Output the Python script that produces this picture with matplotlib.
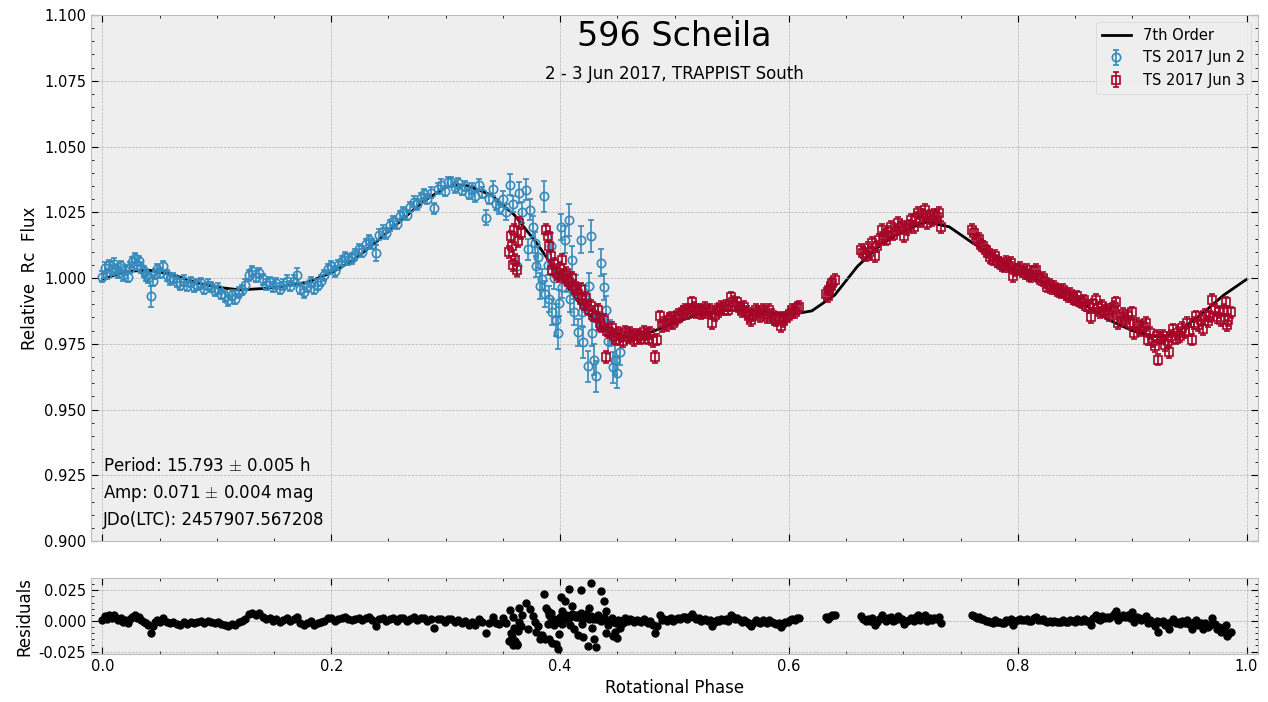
import matplotlib.pyplot as plt
from matplotlib.ticker import AutoMinorLocator, MultipleLocator

plt.style.use("bmh")

# 7th order Fourier fit
fit_phase = [0.00, 0.02, 0.04, 0.06, 0.08, 0.10, 0.12, 0.14, 0.16, 0.18,
             0.20, 0.22, 0.24, 0.26, 0.28, 0.30, 0.31, 0.32, 0.34, 0.36,
             0.38, 0.40, 0.42, 0.44, 0.46, 0.48, 0.50, 0.52, 0.54, 0.56,
             0.58, 0.60, 0.62, 0.64, 0.66, 0.68, 0.70, 0.72, 0.74, 0.76,
             0.78, 0.80, 0.82, 0.84, 0.86, 0.88, 0.90, 0.92, 0.93, 0.94,
             0.96, 0.98, 1.00]
fit_flux = [0.9995, 1.0025, 1.0030, 1.0015, 0.9985, 0.9965, 0.9955, 0.9960, 0.9970, 0.9985,
            1.0020, 1.0070, 1.0140, 1.0215, 1.0290, 1.0345, 1.0355, 1.0350, 1.0315, 1.0240,
            1.0130, 1.0005, 0.9885, 0.9800, 0.9775, 0.9795, 0.9830, 0.9860, 0.9875, 0.9880,
            0.9870, 0.9860, 0.9875, 0.9935, 1.0045, 1.0125, 1.0180, 1.0213, 1.0195, 1.0135,
            1.0080, 1.0025, 0.9990, 0.9950, 0.9895, 0.9840, 0.9800, 0.9778, 0.9780, 0.9795,
            0.9860, 0.9935, 0.9995]

# TS 2017 Jun 2
jun2_phase = [0.000, 0.002, 0.004, 0.006, 0.008, 0.010, 0.012, 0.014, 0.016, 0.018,
              0.020, 0.022, 0.024, 0.026, 0.028, 0.030, 0.032, 0.034, 0.036, 0.038,
              0.040, 0.042, 0.044, 0.046, 0.048, 0.050, 0.053, 0.056, 0.059, 0.062,
              0.065, 0.068, 0.071, 0.074, 0.077, 0.080, 0.083, 0.086, 0.089, 0.092,
              0.095, 0.098, 0.101, 0.104, 0.107, 0.110, 0.113, 0.116, 0.119, 0.122,
              0.125, 0.128, 0.131, 0.134, 0.137, 0.140, 0.143, 0.146, 0.149, 0.152,
              0.155, 0.158, 0.161, 0.164, 0.167, 0.170, 0.173, 0.176, 0.179, 0.182,
              0.185, 0.188, 0.191, 0.194, 0.197, 0.200, 0.203, 0.206, 0.209, 0.212,
              0.215, 0.218, 0.221, 0.224, 0.227, 0.230, 0.233, 0.236, 0.239, 0.242,
              0.245, 0.248, 0.251, 0.254, 0.257, 0.260, 0.263, 0.266, 0.269, 0.272,
              0.275, 0.278, 0.281, 0.284, 0.287, 0.290, 0.293, 0.296, 0.299, 0.302,
              0.305, 0.308, 0.311, 0.314, 0.317, 0.320, 0.323, 0.326, 0.329, 0.332,
              0.335, 0.338, 0.341, 0.344, 0.347, 0.350, 0.353, 0.356, 0.359, 0.362,
              0.364, 0.367, 0.370, 0.372, 0.374, 0.376, 0.378, 0.379, 0.381, 0.382,
              0.384, 0.386, 0.387, 0.389, 0.390, 0.392, 0.393, 0.395, 0.396, 0.398,
              0.399, 0.401, 0.402, 0.404, 0.406, 0.408, 0.409, 0.410, 0.412, 0.414,
              0.416, 0.418, 0.419, 0.420, 0.422, 0.424, 0.425, 0.427, 0.428, 0.430,
              0.431, 0.433, 0.436, 0.438, 0.440, 0.442, 0.444, 0.446, 0.448, 0.450,
              0.452]
jun2_flux = [1.0005, 1.0040, 1.0015, 1.0050, 1.0030, 1.0055, 1.0035, 1.0020, 1.0045, 1.0010,
             1.0030, 1.0005, 1.0040, 1.0060, 1.0075, 1.0050, 1.0065, 1.0040, 1.0025, 1.0010,
             1.0000, 0.9930, 0.9990, 1.0015, 1.0035, 1.0020, 1.0045, 1.0010, 0.9995, 1.0000,
             0.9985, 0.9975, 0.9990, 0.9970, 0.9985, 0.9965, 0.9975, 0.9980, 0.9960, 0.9975,
             0.9965, 0.9950, 0.9960, 0.9940, 0.9930, 0.9915, 0.9935, 0.9920, 0.9945, 0.9955,
             0.9975, 1.0010, 1.0025, 1.0005, 1.0020, 0.9995, 0.9975, 0.9985, 0.9965, 0.9980,
             0.9960, 0.9975, 0.9990, 0.9970, 0.9990, 1.0010, 0.9960, 0.9945, 0.9965, 0.9985,
             0.9960, 0.9975, 0.9990, 1.0010, 1.0035, 1.0045, 1.0025, 1.0050, 1.0065, 1.0080,
             1.0070, 1.0075, 1.0090, 1.0110, 1.0100, 1.0130, 1.0145, 1.0130, 1.0095, 1.0165,
             1.0180, 1.0170, 1.0200, 1.0215, 1.0205, 1.0235, 1.0250, 1.0240, 1.0270, 1.0290,
             1.0280, 1.0305, 1.0320, 1.0300, 1.0325, 1.0265, 1.0340, 1.0355, 1.0330, 1.0365,
             1.0365, 1.0345, 1.0360, 1.0335, 1.0350, 1.0320, 1.0340, 1.0310, 1.0355, 1.0325,
             1.0230, 1.0300, 1.0340, 1.0280, 1.0265, 1.0300, 1.0250, 1.0355, 1.0280, 1.0045,
             1.0325, 1.0250, 1.0335, 1.0110, 1.0260, 1.0195, 1.0135, 1.0045, 1.0080, 0.9970,
             0.9995, 1.0310, 0.9940, 1.0050, 0.9920, 1.0120, 0.9870, 1.0000, 0.9840, 0.9790,
             0.9905, 1.0195, 0.9965, 1.0146, 0.9985, 1.0220, 0.9920, 1.0070, 0.9870, 0.9970,
             0.9793, 1.0146, 0.9869, 0.9755, 0.9920, 0.9664, 0.9970, 1.0160, 0.9790, 0.9690,
             0.9626, 0.9850, 1.0059, 0.9967, 0.9880, 0.9760, 0.9790, 0.9660, 0.9690, 0.9640,
             0.9720]
jun2_err = [0.002, 0.002, 0.002, 0.002, 0.002, 0.002, 0.002, 0.002, 0.002, 0.002,
            0.002, 0.002, 0.002, 0.002, 0.002, 0.002, 0.002, 0.002, 0.002, 0.002,
            0.002, 0.004, 0.002, 0.002, 0.002, 0.002, 0.002, 0.002, 0.002, 0.002,
            0.002, 0.002, 0.002, 0.002, 0.002, 0.002, 0.002, 0.002, 0.002, 0.002,
            0.002, 0.002, 0.002, 0.002, 0.002, 0.002, 0.002, 0.002, 0.002, 0.002,
            0.002, 0.002, 0.002, 0.002, 0.002, 0.002, 0.002, 0.002, 0.002, 0.002,
            0.002, 0.002, 0.002, 0.002, 0.002, 0.003, 0.002, 0.002, 0.002, 0.002,
            0.002, 0.002, 0.002, 0.002, 0.002, 0.002, 0.002, 0.002, 0.002, 0.002,
            0.002, 0.002, 0.002, 0.002, 0.002, 0.002, 0.002, 0.002, 0.003, 0.002,
            0.002, 0.002, 0.002, 0.002, 0.002, 0.002, 0.002, 0.002, 0.002, 0.002,
            0.002, 0.002, 0.002, 0.002, 0.002, 0.002, 0.002, 0.002, 0.002, 0.002,
            0.002, 0.002, 0.002, 0.002, 0.002, 0.002, 0.002, 0.002, 0.002, 0.002,
            0.003, 0.002, 0.003, 0.002, 0.002, 0.003, 0.003, 0.004, 0.003, 0.004,
            0.004, 0.004, 0.004, 0.004, 0.004, 0.004, 0.004, 0.004, 0.004, 0.005,
            0.004, 0.006, 0.005, 0.004, 0.005, 0.005, 0.005, 0.004, 0.006, 0.006,
            0.005, 0.005, 0.004, 0.005, 0.004, 0.006, 0.005, 0.005, 0.005, 0.004,
            0.005, 0.005, 0.005, 0.006, 0.005, 0.006, 0.005, 0.006, 0.005, 0.006,
            0.006, 0.005, 0.005, 0.005, 0.005, 0.005, 0.005, 0.006, 0.006, 0.006,
            0.005]
jun2_resid = [0.0010, 0.0040, 0.0014, 0.0046, 0.0023, 0.0045, 0.0022, 0.0004, 0.0026, -0.0012,
              0.0005, -0.0021, 0.0013, 0.0032, 0.0046, 0.0020, 0.0035, 0.0010, -0.0005, -0.0020,
              -0.0030, -0.0100, -0.0040, -0.0013, 0.0010, -0.0005, 0.0023, -0.0009, -0.0021, -0.0013,
              -0.0025, -0.0030, -0.0008, -0.0024, -0.0005, -0.0020, -0.0007, 0.0001, -0.0016, 0.0002,
              -0.0005, -0.0017, -0.0005, -0.0023, -0.0032, -0.0045, -0.0023, -0.0037, -0.0011, 0.0000,
              0.0019, 0.0054, 0.0068, 0.0047, 0.0061, 0.0035, 0.0014, 0.0022, 0.0001, 0.0014,
              -0.0007, 0.0006, 0.0020, -0.0002, 0.0015, 0.0033, -0.0019, -0.0037, -0.0019, -0.0003,
              -0.0032, -0.0021, -0.0012, 0.0002, 0.0021, 0.0025, -0.0002, 0.0015, 0.0023, 0.0030,
              0.0013, 0.0010, 0.0016, 0.0026, 0.0006, 0.0025, 0.0030, 0.0004, -0.0042, 0.0017,
              0.0020, -0.0002, 0.0016, 0.0020, 0.0000, 0.0020, 0.0023, 0.0001, 0.0019, 0.0028,
              0.0007, 0.0022, 0.0027, -0.0002, 0.0014, -0.0055, 0.0012, 0.0019, -0.0013, 0.0017,
              0.0014, -0.0009, 0.0005, -0.0019, -0.0002, -0.0030, -0.0006, -0.0031, 0.0019, -0.0005,
              -0.0095, -0.0020, 0.0030, -0.0020, -0.0025, 0.0020, -0.0018, 0.0092, 0.0030, -0.0185,
              0.0105, 0.0050, 0.0150, -0.0065, 0.0097, 0.0043, -0.0005, -0.0090, -0.0045, -0.0148,
              -0.0111, 0.0216, -0.0148, -0.0026, -0.0150, 0.0063, -0.0180, -0.0037, -0.0190, -0.0228,
              -0.0106, 0.0196, -0.0028, 0.0165, 0.0016, 0.0263, -0.0031, 0.0125, -0.0063, 0.0049,
              -0.0116, 0.0249, -0.0022, -0.0130, 0.0044, -0.0203, 0.0108, 0.0307, -0.0059, -0.0150,
              -0.0210, 0.0022, 0.0243, 0.0159, 0.0080, -0.0035, 0.0000, -0.0126, -0.0093, -0.0140,
              -0.0058]

# TS 2017 Jun 3
jun3_phase = [0.355, 0.357, 0.358, 0.359, 0.360, 0.361, 0.362, 0.363, 0.364, 0.366,
              0.388, 0.389, 0.390, 0.392, 0.393, 0.395, 0.397, 0.399, 0.400, 0.402,
              0.403, 0.405, 0.406, 0.408, 0.410, 0.412, 0.414, 0.416, 0.418, 0.419,
              0.421, 0.423, 0.425, 0.427, 0.429, 0.431, 0.433, 0.435, 0.436, 0.438,
              0.440, 0.441, 0.443, 0.445, 0.447, 0.449, 0.451, 0.453, 0.455, 0.457,
              0.459, 0.461, 0.463, 0.465, 0.467, 0.469, 0.471, 0.473, 0.475, 0.477,
              0.479, 0.481, 0.483, 0.485, 0.487, 0.489, 0.491, 0.493, 0.495, 0.497,
              0.499, 0.501, 0.503, 0.505, 0.507, 0.509, 0.511, 0.513, 0.515, 0.517,
              0.519, 0.521, 0.523, 0.525, 0.527, 0.529, 0.531, 0.533, 0.535, 0.537,
              0.539, 0.541, 0.543, 0.545, 0.547, 0.549, 0.551, 0.553, 0.555, 0.557,
              0.559, 0.561, 0.563, 0.565, 0.567, 0.569, 0.571, 0.573, 0.575, 0.577,
              0.579, 0.581, 0.583, 0.585, 0.587, 0.589, 0.591, 0.593, 0.595, 0.597,
              0.599, 0.601, 0.603, 0.605, 0.607, 0.609,
              0.632, 0.634, 0.635, 0.637, 0.638, 0.640,
              0.663, 0.665, 0.667, 0.669, 0.671, 0.673, 0.675, 0.677, 0.679, 0.681,
              0.683, 0.685, 0.687, 0.689, 0.691, 0.693, 0.695, 0.697, 0.699, 0.701,
              0.703, 0.705, 0.707, 0.709, 0.711, 0.713, 0.715, 0.717, 0.719, 0.721,
              0.723, 0.725, 0.727, 0.729, 0.731, 0.733,
              0.760, 0.762, 0.764, 0.766, 0.768, 0.770, 0.772, 0.774, 0.776, 0.778,
              0.780, 0.782, 0.784, 0.786, 0.788, 0.790, 0.792, 0.794, 0.796, 0.798,
              0.800, 0.802, 0.804, 0.806, 0.808, 0.810, 0.812, 0.814, 0.816, 0.818,
              0.820, 0.822, 0.824, 0.826, 0.828, 0.830, 0.832, 0.834, 0.836, 0.838,
              0.840, 0.842, 0.844, 0.846, 0.848, 0.850, 0.852, 0.854, 0.856, 0.858,
              0.860, 0.862, 0.864, 0.866, 0.868, 0.870, 0.872, 0.874, 0.876, 0.878,
              0.880, 0.882, 0.884, 0.886, 0.888, 0.890, 0.892, 0.894, 0.896, 0.898,
              0.900, 0.902, 0.904, 0.906, 0.908, 0.910, 0.912, 0.914, 0.916, 0.918,
              0.920, 0.922, 0.923, 0.925, 0.927, 0.929, 0.931, 0.932, 0.934, 0.936,
              0.938, 0.940, 0.942, 0.944, 0.946, 0.948, 0.950, 0.952, 0.954, 0.956,
              0.958, 0.960, 0.962, 0.964, 0.966, 0.968, 0.970, 0.972, 0.974, 0.976,
              0.978, 0.980, 0.982, 0.983, 0.984, 0.986]
jun3_flux = [1.0100, 1.0158, 1.0120, 1.0050, 1.0184, 1.0070, 1.0030, 1.0140, 1.0210, 1.0170,
             1.0184, 1.0158, 1.0120, 1.0082, 1.0032, 1.0055, 1.0020, 1.0006, 1.0040, 1.0070,
             1.0010, 1.0020, 0.9995, 0.9983, 1.0000, 0.9970, 0.9956, 0.9940, 0.9960, 0.9918,
             0.9900, 0.9925, 0.9880, 0.9895, 0.9860, 0.9854, 0.9880, 0.9830, 0.9816, 0.9840,
             0.9700, 0.9800, 0.9793, 0.9810, 0.9780, 0.9766, 0.9790, 0.9780, 0.9760, 0.9795,
             0.9775, 0.9790, 0.9780, 0.9765, 0.9785, 0.9780, 0.9770, 0.9795, 0.9785, 0.9770,
             0.9790, 0.9760, 0.9700, 0.9766, 0.9854, 0.9816, 0.9830, 0.9820, 0.9840, 0.9850,
             0.9830, 0.9845, 0.9860, 0.9855, 0.9870, 0.9880, 0.9865, 0.9880, 0.9907, 0.9885,
             0.9870, 0.9880, 0.9865, 0.9875, 0.9885, 0.9870, 0.9880, 0.9830, 0.9860, 0.9880,
             0.9875, 0.9890, 0.9880, 0.9895, 0.9880, 0.9926, 0.9910, 0.9895, 0.9907, 0.9885,
             0.9875, 0.9890, 0.9870, 0.9855, 0.9840, 0.9860, 0.9880, 0.9870, 0.9855, 0.9880,
             0.9865, 0.9850, 0.9880, 0.9860, 0.9845, 0.9840, 0.9850, 0.9816, 0.9835, 0.9850,
             0.9854, 0.9865, 0.9880, 0.9870, 0.9885, 0.9890,
             0.9940, 0.9930, 0.9956, 0.9970, 0.9980, 0.9994,
             1.0108, 1.0097, 1.0085, 1.0115, 1.0100, 1.0135, 1.0082, 1.0120, 1.0145, 1.0184,
             1.0160, 1.0146, 1.0175, 1.0195, 1.0165, 1.0180, 1.0210, 1.0190, 1.0195, 1.0158,
             1.0185, 1.0200, 1.0220, 1.0195, 1.0230, 1.0248, 1.0215, 1.0240, 1.0260, 1.0210,
             1.0235, 1.0220, 1.0240, 1.0233, 1.0248, 1.0195,
             1.0184, 1.0170, 1.0146, 1.0150, 1.0125, 1.0120, 1.0105, 1.0097, 1.0080, 1.0070,
             1.0085, 1.0065, 1.0059, 1.0050, 1.0044, 1.0060, 1.0045, 1.0059, 1.0006, 1.0030,
             1.0032, 1.0040, 1.0025, 1.0020, 1.0030, 1.0010, 1.0006, 1.0025, 1.0032, 1.0005,
             0.9994, 1.0000, 0.9985, 0.9967, 0.9975, 0.9960, 0.9967, 0.9955, 0.9950, 0.9945,
             0.9955, 0.9940, 0.9930, 0.9940, 0.9925, 0.9918, 0.9930, 0.9910, 0.9907, 0.9915,
             0.9895, 0.9890, 0.9850, 0.9900, 0.9918, 0.9885, 0.9869, 0.9895, 0.9875, 0.9880,
             0.9860, 0.9875, 0.9890, 0.9907, 0.9830, 0.9850, 0.9865, 0.9840, 0.9855, 0.9830,
             0.9869, 0.9790, 0.9825, 0.9816, 0.9800, 0.9815, 0.9830, 0.9766, 0.9790, 0.9760,
             0.9740, 0.9780, 0.9690, 0.9770, 0.9780, 0.9745, 0.9760, 0.9717, 0.9780, 0.9805,
             0.9770, 0.9790, 0.9780, 0.9810, 0.9795, 0.9830, 0.9800, 0.9766, 0.9830, 0.9854,
             0.9820, 0.9840, 0.9805, 0.9860, 0.9835, 0.9854, 0.9918, 0.9880, 0.9850, 0.9869,
             0.9840, 0.9880, 0.9907, 0.9820, 0.9840, 0.9869]
jun3_err = 0.0022
jun3_resid = [-0.0160, -0.0097, -0.0130, -0.0195, -0.0056, -0.0165, -0.0200, -0.0085, -0.0010, -0.0040,
              0.0102, 0.0082, 0.0050, 0.0025, -0.0018, 0.0018, -0.0004, -0.0005, 0.0035, 0.0077,
              0.0023, 0.0045, 0.0026, 0.0026, 0.0055, 0.0037, 0.0035, 0.0031, 0.0063, 0.0027,
              0.0020, 0.0054, 0.0018, 0.0042, 0.0015, 0.0018, 0.0052, 0.0010, 0.0000, 0.0032,
              -0.0100, 0.0002, 0.0000, 0.0022, -0.0005, -0.0016, 0.0011, 0.0003, -0.0016, 0.0020,
              0.0000, 0.0015, 0.0005, -0.0010, 0.0010, 0.0003, -0.0010, 0.0013, 0.0000, -0.0018,
              -0.0002, -0.0037, -0.0100, -0.0038, 0.0046, 0.0004, 0.0015, 0.0001, 0.0018, 0.0024,
              0.0001, 0.0012, 0.0024, 0.0016, 0.0028, 0.0035, 0.0017, 0.0029, 0.0054, 0.0030,
              0.0012, 0.0020, 0.0003, 0.0011, 0.0019, 0.0002, 0.0010, -0.0041, -0.0012, 0.0007,
              0.0001, 0.0015, 0.0004, 0.0018, 0.0002, 0.0048, 0.0031, 0.0016, 0.0027, 0.0005,
              -0.0005, 0.0010, -0.0010, -0.0024, -0.0038, -0.0017, 0.0004, -0.0005, -0.0019, 0.0007,
              -0.0006, -0.0020, 0.0011, -0.0008, -0.0021, -0.0025, -0.0014, -0.0047, -0.0027, -0.0011,
              -0.0006, 0.0005, 0.0019, 0.0008, 0.0022, 0.0026,
              0.0030, 0.0012, 0.0034, 0.0040, 0.0045, 0.0049,
              0.0038, 0.0017, -0.0003, 0.0019, -0.0004, 0.0024, -0.0036, -0.0005, 0.0015, 0.0047,
              0.0017, -0.0003, 0.0020, 0.0035, 0.0000, 0.0010, 0.0037, 0.0013, 0.0015, -0.0025,
              -0.0002, 0.0010, 0.0026, -0.0002, 0.0030, 0.0045, 0.0009, 0.0031, 0.0049, -0.0003,
              0.0021, 0.0005, 0.0025, 0.0019, 0.0035, -0.0016,
              0.0049, 0.0040, 0.0022, 0.0031, 0.0012, 0.0012, 0.0003, 0.0000, -0.0011, -0.0015,
              0.0005, -0.0010, -0.0010, -0.0014, -0.0014, 0.0008, -0.0002, 0.0017, -0.0030, 0.0000,
              0.0007, 0.0018, 0.0007, 0.0005, 0.0019, 0.0002, 0.0002, 0.0024, 0.0035, 0.0011,
              0.0004, 0.0014, 0.0003, -0.0011, 0.0001, -0.0010, 0.0001, -0.0007, -0.0008, -0.0009,
              0.0005, -0.0005, -0.0009, 0.0007, -0.0003, -0.0005, 0.0013, -0.0002, 0.0001, 0.0015,
              0.0000, 0.0000, -0.0034, 0.0020, 0.0045, 0.0018, 0.0007, 0.0039, 0.0024, 0.0035,
              0.0020, 0.0039, 0.0058, 0.0079, 0.0006, 0.0030, 0.0049, 0.0028, 0.0047, 0.0026,
              0.0069, -0.0008, 0.0029, 0.0023, 0.0009, 0.0026, 0.0043, -0.0019, 0.0008, -0.0020,
              -0.0038, 0.0002, -0.0089, -0.0009, 0.0001, -0.0035, -0.0021, -0.0065, -0.0005, 0.0017,
              -0.0021, -0.0005, -0.0022, 0.0002, -0.0020, 0.0009, -0.0028, -0.0068, -0.0010, 0.0007,
              -0.0034, -0.0020, -0.0063, -0.0015, -0.0048, -0.0036, 0.0020, -0.0025, -0.0063, -0.0051,
              -0.0088, -0.0055, -0.0036, -0.0126, -0.0110, -0.0089]

BLUE = "#348ABD"
RED = "#A60628"

fig = plt.figure(figsize=(12.68, 7.02), dpi=100)
ax = fig.add_axes([0.0718, 0.2293, 0.9203, 0.7493])
axr = fig.add_axes([0.0718, 0.0684, 0.9203, 0.1082], sharex=ax)

ax.plot(fit_phase, fit_flux, color="black", lw=2, label="7th Order", zorder=1)
ax.errorbar(jun2_phase, jun2_flux, yerr=jun2_err, fmt="o", ms=6, mfc="none",
            mec=BLUE, mew=1.2, ecolor=BLUE, elinewidth=1.2, capsize=2.5,
            label="TS 2017 Jun 2", zorder=2)
ax.errorbar(jun3_phase, jun3_flux, yerr=jun3_err, fmt="s", ms=6, mfc="none",
            mec=RED, mew=1.2, ecolor=RED, elinewidth=1.2, capsize=2.5,
            label="TS 2017 Jun 3", zorder=3)

ax.set_xlim(-0.01, 1.01)
ax.set_ylim(0.9, 1.1)
ax.yaxis.set_major_locator(MultipleLocator(0.025))
ax.yaxis.set_major_formatter(plt.FormatStrFormatter("%.3f"))
ax.xaxis.set_major_locator(MultipleLocator(0.2))
for a in (ax, axr):
    a.xaxis.set_minor_locator(AutoMinorLocator())
    a.yaxis.set_minor_locator(AutoMinorLocator())
    a.tick_params(which="both", direction="in", top=True, right=True, labelsize=10.5)
    a.tick_params(which="major", length=5)
    a.tick_params(which="minor", length=2.5)
ax.tick_params(labelbottom=False)
ax.set_ylabel("Relative  Rc  Flux", fontsize=12)

ax.text(0.5, 0.96, "596 Scheila", transform=ax.transAxes, ha="center",
        va="center", fontsize=24)
ax.text(0.5, 0.888, "2 - 3 Jun 2017, TRAPPIST South", transform=ax.transAxes,
        ha="center", va="center", fontsize=12)
ax.text(0.0103, 0.142, r"Period: 15.793 $\pm$ 0.005 h", transform=ax.transAxes,
        va="center", fontsize=12)
ax.text(0.0103, 0.091, r"Amp: 0.071 $\pm$ 0.004 mag", transform=ax.transAxes,
        va="center", fontsize=12)
ax.text(0.0103, 0.040, "JDo(LTC): 2457907.567208", transform=ax.transAxes,
        va="center", fontsize=12)
ax.legend(loc="upper right", fontsize=10.5)

axr.plot(jun2_phase, jun2_resid, "o", color="black", ms=5)
axr.plot(jun3_phase, jun3_resid, "o", color="black", ms=5)
axr.set_ylim(-0.027, 0.035)
axr.yaxis.set_major_locator(MultipleLocator(0.025))
axr.yaxis.set_major_formatter(plt.FormatStrFormatter("%.3f"))
axr.set_ylabel("Residuals", fontsize=12)
axr.set_xlabel("Rotational Phase", fontsize=12)

fig.savefig("out.png", dpi=100)
